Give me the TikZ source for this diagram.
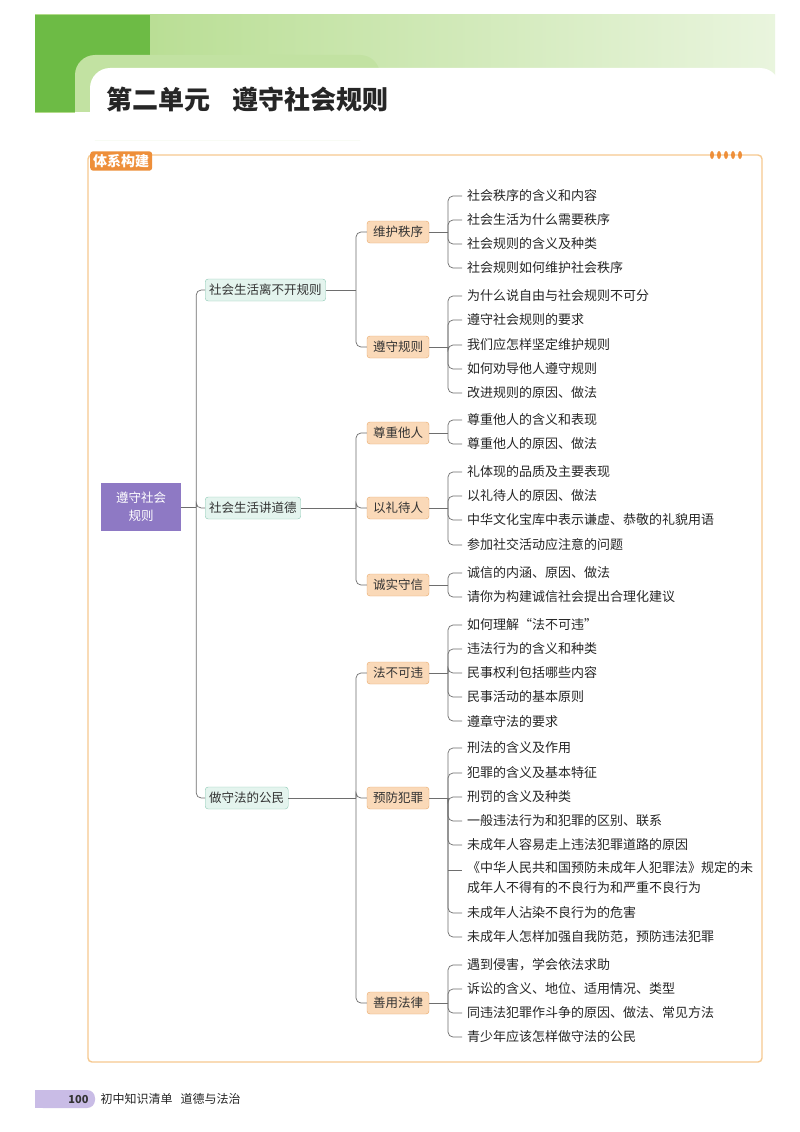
\documentclass[tikz,border=0pt]{standalone}
\usepackage{fontspec}
\setmainfont{Noto Sans CJK SC}
\usetikzlibrary{calc}
\definecolor{frameor}{HTML}{F6C990}
\definecolor{tagor}{HTML}{EE8F3A}
\definecolor{lvtwo}{HTML}{FAD9B8}
\definecolor{lvtwob}{HTML}{E9A86A}
\definecolor{lvone}{HTML}{E4F4EE}
\definecolor{lvoneb}{HTML}{8CC9B4}
\definecolor{rootc}{HTML}{8E79C4}
\definecolor{linec}{HTML}{6E6E6E}
\definecolor{gband}{HTML}{A8D67A}
\definecolor{gdark}{HTML}{6DBB45}
\definecolor{footp}{HTML}{C9BCE6}
\tikzset{
  x=1pt,y=-1pt,
  conn/.style={draw=linec,line width=0.7pt},
  rconn/.style={draw=linec,line width=0.7pt,rounded corners=5},
  leaf/.style={anchor=west,inner sep=1pt,font=\fontsize{13}{15}\selectfont,text=black!85},
  lone/.style={draw=lvoneb,fill=lvone,rounded corners=3,minimum height=22,inner xsep=4,font=\fontsize{12.5}{14}\selectfont,text=black!80},
  ltwo/.style={draw=lvtwob,fill=lvtwo,rounded corners=3,minimum height=22,minimum width=62,font=\fontsize{12.5}{14}\selectfont,text=black!80},
}
\begin{document}
\begin{tikzpicture}
\useasboundingbox (0,0) rectangle (800,1132);
\fill[white] (0,0) rectangle (800,1132);
% header
\shade[left color=gband!90, right color=gband!25] (35,15) rectangle (775,112);
\fill[gdark] (35,15) rectangle (150,112);
\fill[gband!70,rounded corners=20] (75,55) rectangle (380,140);
\fill[white,rounded corners=20] (90,68) rectangle (780,140);
\fill[white] (75,112) rectangle (800,140);
\node[anchor=west,font=\fontsize{26}{28}\selectfont\bfseries,text=black!85] (title) at (103,100) {第二单元\hspace{22pt}遵守社会规则};
% frame
\draw[frameor,line width=1.4pt,rounded corners=4] (88,155) rectangle (762,1062);
\node[fill=tagor,rounded corners=3,text=white,font=\fontsize{14}{16}\selectfont\bfseries,inner sep=3pt,anchor=west] (tag) at (90,161) {体系构建};
\foreach \i in {0,...,4} \fill[tagor] (712+\i*7,155) ellipse (2 and 4);
% root
\node[fill=rootc,text=white,minimum width=80,minimum height=48,align=center,font=\fontsize{12.5}{18}\selectfont] (root) at (141,507) {遵守社会\\规则};
% level 1
\node[lone,anchor=west] (a) at (205,290) {社会生活离不开规则};
\node[lone,anchor=west] (b) at (205,508) {社会生活讲道德};
\node[lone,anchor=west] (c) at (205,798) {做守法的公民};
\coordinate (rj) at ($(root.east)+(15,0)$);
\draw[conn] (root.east) -- (rj);
\foreach \n in {a,b,c} \draw[rconn] (rj) |- (\n.west);
% level 2
\node[ltwo] (a1) at (398,232) {维护秩序};
\node[ltwo] (a2) at (398,347) {遵守规则};
\node[ltwo] (b1) at (398,433) {尊重他人};
\node[ltwo] (b2) at (398,508) {以礼待人};
\node[ltwo] (b3) at (398,585) {诚实守信};
\node[ltwo] (c1) at (398,673) {法不可违};
\node[ltwo] (c2) at (398,798) {预防犯罪};
\node[ltwo] (c3) at (398,1003) {善用法律};
\foreach \p in {a,b,c} {
  \coordinate (\p j) at (356,0 |- \p.east);
  \draw[conn] (\p.east) -- (\p j);
}
\foreach \p/\n in {a/a1,a/a2,b/b1,b/b2,b/b3,c/c1,c/c2,c/c3}
  \draw[rconn] (\p j) |- (\n.west);
% leaves
\newcommand{\leafgroup}[3]{%
  \coordinate (#2j) at (448,0 |- #2.east);
  \draw[conn] (#2.east) -- (#2j);
  \foreach \y/\t [count=\k] in {#3} {
    \node[leaf] (#1-l\k) at (466,\y) {\t};
    \draw[rconn] (#2j) |- ($(#1-l\k.west)+(-4,0)$);
  }}
\leafgroup{A}{a1}{196/社会秩序的含义和内容,220/社会生活为什么需要秩序,244/社会规则的含义及种类,268/社会规则如何维护社会秩序}
\leafgroup{B}{a2}{296/为什么说自由与社会规则不可分,320/遵守社会规则的要求,345/我们应怎样坚定维护规则,369/如何劝导他人遵守规则,393/改进规则的原因、做法}
\leafgroup{C}{b1}{420/尊重他人的含义和表现,444/尊重他人的原因、做法}
\leafgroup{D}{b2}{472/礼体现的品质及主要表现,496/以礼待人的原因、做法,520/中华文化宝库中表示谦虚、恭敬的礼貌用语,545/参加社交活动应注意的问题}
\leafgroup{E}{b3}{573/诚信的内涵、原因、做法,597/请你为构建诚信社会提出合理化建议}
\leafgroup{F}{c1}{625/如何理解“法不可违”,649/违法行为的含义和种类,673/民事权利包括哪些内容,697/民事活动的基本原则,721/遵章守法的要求}
\leafgroup{G}{c2}{748/刑法的含义及作用,773/犯罪的含义及基本特征,797/刑罚的含义及种类,821/一般违法行为和犯罪的区别、联系,845/未成年人容易走上违法犯罪道路的原因,913/未成年人沾染不良行为的危害,937/未成年人怎样加强自我防范，预防违法犯罪}
\node[leaf,anchor=north west,align=left,font=\fontsize{13}{20}\selectfont] (G-long) at (466,860) {《中华人民共和国预防未成年人犯罪法》规定的未\\成年人不得有的不良行为和严重不良行为};
\draw[conn] ($(G-long.north west)+(-18,10)$) -- ($(G-long.north west)+(-4,10)$);
\leafgroup{H}{c3}{965/遇到侵害，学会依法求助,989/诉讼的含义、地位、适用情况、类型,1013/同违法犯罪作斗争的原因、做法、常见方法,1037/青少年应该怎样做守法的公民}
% footer
\fill[footp,rounded corners=8] (35,1090) rectangle (95,1108);
\fill[footp] (35,1090) rectangle (80,1108);
\node[anchor=east,font=\fontsize{11}{13}\selectfont\bfseries,text=black!80] (pg) at (92,1099) {100};
\node[anchor=west,font=\fontsize{12}{14}\selectfont,text=black!85] (ft) at (97,1099) {初中知识清单\hspace{8pt}道德与法治};
\end{tikzpicture}
\end{document}
